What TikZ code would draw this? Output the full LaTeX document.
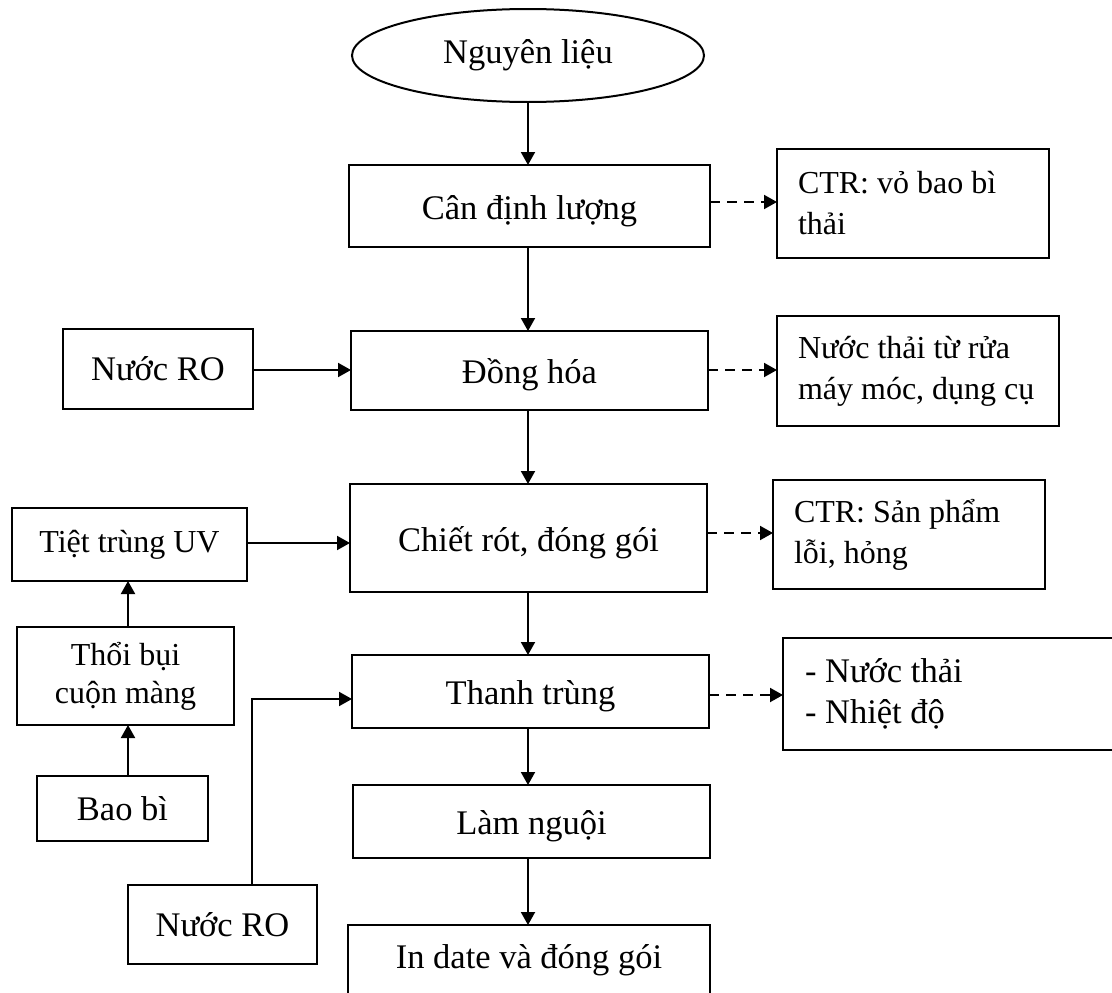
\documentclass[tikz,border=0pt]{standalone}
\usepackage{fontspec}
\setmainfont{Liberation Serif}
\usetikzlibrary{arrows.meta,shapes.geometric}
\begin{document}
\begin{tikzpicture}[x=1pt,y=-1pt,
  every node/.style={font=\fontsize{34.5}{41}\selectfont},
  small/.style={font=\fontsize{32}{41}\selectfont},
  box/.style={draw, line width=2pt, rectangle, inner sep=0pt, outer sep=0pt, align=center},
  mainbox/.style={box, text height=30pt, text depth=4pt},
  sidebox/.style={draw, line width=2.2pt, rectangle, inner xsep=21pt, inner ysep=0pt, outer sep=0pt, align=flush left},
  arr/.style={line width=2pt, -{Triangle[length=13pt,width=14pt]}},
  darr/.style={arr, dash pattern=on 10pt off 7pt},
]
\useasboundingbox (0,0) rectangle (1112,993);
\clip (0,0) rectangle (1112,993);

% main column
\node[draw, ellipse, line width=2pt, inner sep=0pt, outer sep=0pt, minimum width=352, minimum height=93] (nl) at (528,55.5) {Nguyên liệu};
\node[mainbox, minimum width=361, minimum height=82] (can) at (529.5,206) {Cân định lượng};
\node[mainbox, minimum width=357, minimum height=79] (dong) at (529.5,370.5) {Đồng hóa};
\node[mainbox, minimum width=357, minimum height=108] (chiet) at (528.5,538) {Chiết rót, đóng gói};
\node[mainbox, minimum width=357, minimum height=73] (thanh) at (530.5,691.5) {Thanh trùng};
\node[mainbox, minimum width=357, minimum height=73] (lam) at (531.5,821.5) {Làm nguội};
\node[box, text height=20pt, text depth=14pt, minimum width=362, minimum height=80, anchor=north] (indate) at (529,925) {In date và đóng gói};

% right column
\node[sidebox, small, text width=230, minimum width=272, minimum height=109] (ctr1) at (913,203.5) {CTR: vỏ bao bì\\thải};
\node[sidebox, small, text width=240, minimum width=282, minimum height=110] (nt) at (918,371) {\mbox{Nước thải từ rửa}\\\mbox{máy móc, dụng cụ}};
\node[sidebox, small, text width=230, minimum width=272, minimum height=109] (ctr2) at (909,534.5) {CTR: Sản phẩm\\lỗi, hỏng};
\node[sidebox, inner xsep=22pt, text width=313, minimum width=357, minimum height=112] (nhiet) at (961.5,694) {- Nước thải\\- Nhiệt độ};

% left column
\node[box, minimum width=190, minimum height=80] (ro1) at (158,369) {Nước RO};
\node[box, small, minimum width=235, minimum height=73] (uv) at (129.5,544.5) {Tiệt trùng UV};
\node[box, minimum width=217, minimum height=98, font=\fontsize{32}{38}\selectfont] (thoi) at (125.5,676) {Thổi bụi\\cuộn màng};
\node[box, minimum width=171, minimum height=65] (bao) at (122.5,808.5) {Bao bì};
\node[box, minimum width=189, minimum height=79] (ro2) at (222.5,924.5) {Nước RO};

% helper coordinates
\coordinate (cx) at (528,0);
\coordinate (lx) at (128,0);
\coordinate (d1) at (0,202);
\coordinate (d2) at (0,370);
\coordinate (d3) at (0,533);
\coordinate (d4) at (0,695);
\coordinate (h1) at (0,543);
\coordinate (bend) at (252,699);

% main arrows
\draw[arr] (cx |- nl.south) -- (cx |- can.north);
\draw[arr] (cx |- can.south) -- (cx |- dong.north);
\draw[arr] (cx |- dong.south) -- (cx |- chiet.north);
\draw[arr] (cx |- chiet.south) -- (cx |- thanh.north);
\draw[arr] (cx |- thanh.south) -- (cx |- lam.north);
\draw[arr] (cx |- lam.south) -- (cx |- indate.north);

% dashed outputs
\draw[darr] (can.east |- d1) -- (ctr1.west |- d1);
\draw[darr] (dong.east |- d2) -- (nt.west |- d2);
\draw[darr] (chiet.east |- d3) -- (ctr2.west |- d3);
\draw[darr] (thanh.east |- d4) -- (nhiet.west |- d4);

% left inputs
\draw[arr] (ro1.east |- d2) -- (dong.west |- d2);
\draw[arr] (uv.east |- h1) -- (chiet.west |- h1);
\draw[arr] (lx |- bao.north) -- (lx |- thoi.south);
\draw[arr] (lx |- thoi.north) -- (lx |- uv.south);
\draw[arr] (ro2.north -| bend) -- (bend) -- (thanh.west |- bend);
\end{tikzpicture}
\end{document}
